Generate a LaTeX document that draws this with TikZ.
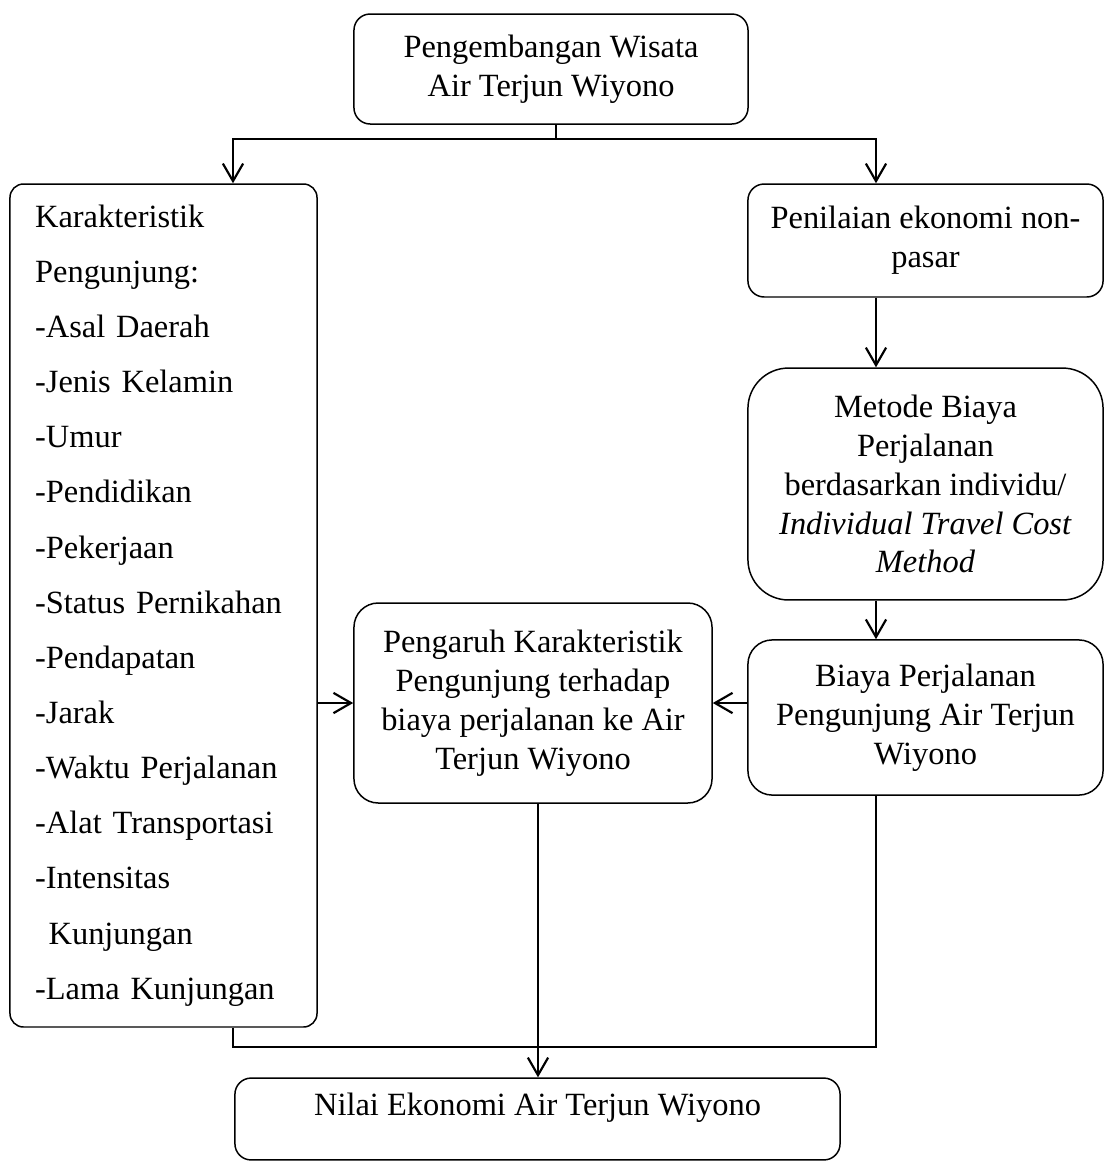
\documentclass[tikz,border=0pt]{standalone}
\usepackage{fontspec}
\setmainfont{Liberation Serif}
\usepackage{tikz}
\usetikzlibrary{calc,positioning,arrows.meta}

\begin{document}
\begin{tikzpicture}[x=0.37pt,y=-0.37pt,
    box/.style={draw=black, line width=0.55pt, rounded corners=6pt, align=center,
                font=\fontsize{12}{14.4}\selectfont, inner sep=3pt},
    link/.style={line width=0.8pt},
    arrow/.style={link, -{Straight Barb[length=6.5pt,width=7.5pt]}}]
  \useasboundingbox (0,0) rectangle (1104,1170);

  \node[box, minimum width=145.8pt, minimum height=40.7pt] (top) at (551,69)
    {Pengembangan Wisata\\Air Terjun Wiyono};
  \node[box, rounded corners=5pt, align=left, font=\fontsize{12}{20.4}\selectfont,
        minimum width=113.6pt, minimum height=311.9pt, text width=95pt, inner xsep=9.25pt]
    (karakter) at (163.5,605.5)
    {Karakteristik\\Pengunjung:\\-Asal Daerah\\-Jenis Kelamin\\-Umur\\-Pendidikan\\
     -Pekerjaan\\-Status Pernikahan\\-Pendapatan\\-Jarak\\-Waktu Perjalanan\\
     -Alat Transportasi\\-Intensitas\\\hspace*{5pt}Kunjungan\\-Lama Kunjungan};
  \node[box, minimum width=131.4pt, minimum height=41.8pt] (nonpasar) at (925.5,240.5)
    {Penilaian ekonomi non-\\pasar};
  \node[box, rounded corners=15pt, minimum width=131.4pt, minimum height=85.8pt]
    (metode) at (925.5,484)
    {Metode Biaya\\Perjalanan\\berdasarkan individu/\\\textit{Individual Travel Cost}\\\textit{Method}};
  \node[box, rounded corners=9pt, minimum width=131.4pt, minimum height=57.4pt]
    (biaya) at (925.5,717.5)
    {Biaya Perjalanan\\Pengunjung Air Terjun\\Wiyono};
  \node[box, rounded corners=9pt, minimum width=132.5pt, minimum height=74pt]
    (pengaruh) at (533,703)
    {Pengaruh Karakteristik\\Pengunjung terhadap\\biaya perjalanan ke Air\\Terjun Wiyono};
  \node[box, minimum width=223.9pt, text height=9.7pt, text depth=12.6pt, inner ysep=4pt]
    (nilai) at (537.5,1119) {Nilai Ekonomi Air Terjun Wiyono};

  \coordinate (split) at (556,139);
  \coordinate (colL) at (233,0);
  \coordinate (colR) at (876,0);
  \coordinate (colM) at (538,0);
  \coordinate (join) at (0,1047);

  \draw[link] (top.south -| split) -- (split);
  \draw[arrow] (split) -| (karakter.north -| colL);
  \draw[arrow] (split) -| (nonpasar.north -| colR);
  \draw[arrow] (nonpasar.south -| colR) -- (metode.north -| colR);
  \draw[arrow] (metode.south -| colR) -- (biaya.north -| colR);
  \draw[arrow] (karakter.east |- pengaruh.west) -- (pengaruh.west);
  \draw[arrow] (biaya.west |- pengaruh.east) -- (pengaruh.east);
  \draw[arrow] (pengaruh.south -| colM) -- (nilai.north -| colM);
  \draw[link] (karakter.south -| colL) -- (colL |- join) -- (colR |- join) -- (biaya.south -| colR);
\end{tikzpicture}
\end{document}
